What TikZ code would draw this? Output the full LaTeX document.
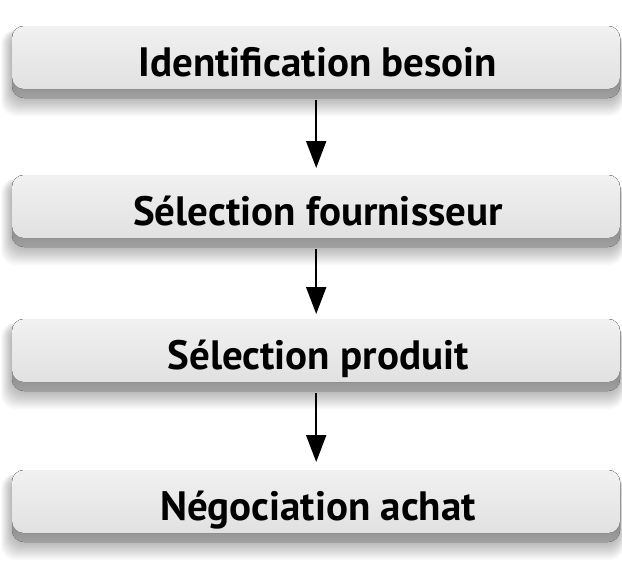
\documentclass[tikz,border=0pt]{standalone}
\usepackage{fontspec}
\setmainfont{PT Sans}
\usetikzlibrary{arrows.meta}
\definecolor{facetop}{HTML}{F1F1F1}
\definecolor{facebot}{HTML}{E1E1E1}
\definecolor{bandtop}{HTML}{555555}
\definecolor{bandbot}{HTML}{A0A0A0}
\newcommand\flowbox[3]{%
  % soft shadow
  \foreach \i in {1,...,12}{%
    \fill[black,opacity=0.022,rounded corners=14pt]
      (12-\i*0.9, #2+6-\i*0.2) rectangle (620+\i*0.3, #2+72+\i*1.5);
  }
  % dark bevel (whole box)
  \fill[rounded corners=12pt, top color=bandtop, bottom color=bandbot]
    (12,#2) rectangle (620,#2+72);
  % light face
  \fill[rounded corners=12pt, top color=facetop, bottom color=facebot]
    (12,#2) rectangle (620,#2+63);
  \node[boxarea, anchor=north west] (#1) at (12,#2) {};
  \node[boxtext] (#1t) at (318,#2+50) {#3};
}
\begin{document}
\begin{tikzpicture}[x=1pt,y=-1pt,
  boxarea/.style={minimum width=608pt, minimum height=72pt, inner sep=0pt, draw=none},
  boxtext/.style={anchor=base, inner sep=0pt, font=\bfseries\fontsize{41}{46}\selectfont, text=black},
  arr/.style={line width=2pt, -{Triangle[width=20pt,length=27pt]}}]
\useasboundingbox (0,0) rectangle (622,563);
\fill[white] (0,0) rectangle (622,563);
\flowbox{b1}{26}{Identification besoin}
\flowbox{b2}{175}{Sélection fournisseur}
\flowbox{b3}{319}{Sélection produit}
\flowbox{b4}{470}{Négociation achat}
\draw[arr] ([yshift=-2pt]b1.south) -- ([yshift=7pt]b2.north);
\draw[arr] ([yshift=-2pt]b2.south) -- ([yshift=5pt]b3.north);
\draw[arr] ([yshift=-2pt]b3.south) -- ([yshift=8pt]b4.north);
\end{tikzpicture}
\end{document}
